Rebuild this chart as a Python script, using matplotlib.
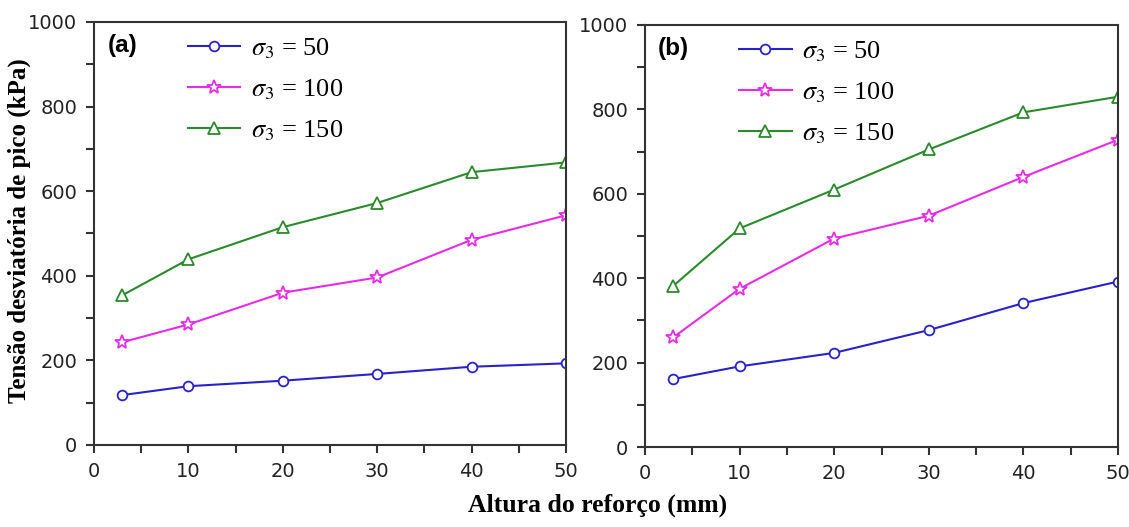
import matplotlib
matplotlib.use("Agg")
import matplotlib.pyplot as plt
from matplotlib.ticker import MultipleLocator

# ---------- Data ----------
altura = [3, 10, 20, 30, 40, 50]

a_s50 = [118, 139, 152, 168, 185, 193]
a_s100 = [243, 285, 360, 396, 485, 543]
a_s150 = [354, 439, 515, 572, 645, 668]

b_s50 = [161, 191, 223, 277, 341, 392]
b_s100 = [260, 375, 494, 548, 640, 728]
b_s150 = [382, 518, 610, 705, 793, 830]

series_labels = [r"$\sigma_3$ = 50", r"$\sigma_3$ = 100", r"$\sigma_3$ = 150"]
panel_labels = ["(a)", "(b)"]

colors = ["#2a22c8", "#e62ce6", "#2b8a2b"]
markers = ["o", "*", "^"]
msizes = [7, 10, 9]

plt.rcParams["mathtext.fontset"] = "stix"

fig = plt.figure(figsize=(11.29, 5.27), dpi=100)
ax_a = fig.add_axes([0.0833, 0.1556, 0.418, 0.8027])
ax_b = fig.add_axes([0.5713, 0.1518, 0.419, 0.8008])


def draw_panel(ax, data, tag):
    for vals, lab, c, m, ms in zip(data, series_labels, colors, markers, msizes):
        ax.plot(altura, vals, color=c, lw=1.5, marker=m, ms=ms,
                mfc="white", mec=c, mew=1.3, label=lab)
    ax.set_xlim(0, 50)
    ax.set_ylim(0, 1000)
    ax.xaxis.set_major_locator(MultipleLocator(10))
    ax.xaxis.set_minor_locator(MultipleLocator(5))
    ax.yaxis.set_major_locator(MultipleLocator(200))
    ax.yaxis.set_minor_locator(MultipleLocator(100))
    ax.tick_params(which="both", direction="out", width=1.5, color="#333333")
    ax.tick_params(which="major", length=6, labelsize=14, pad=6,
                   labelcolor="#222222")
    ax.tick_params(which="minor", length=6)
    for sp in ax.spines.values():
        sp.set_linewidth(1.5)
        sp.set_color("#333333")
    ax.text(0.028, 0.972, tag, transform=ax.transAxes, fontsize=17.5,
            fontweight="bold", family="Liberation Sans", va="top", ha="left")
    leg = ax.legend(loc="upper left", bbox_to_anchor=(0.148, 1.022), frameon=False,
                    handlelength=2.0, labelspacing=0.62, handletextpad=0.4,
                    prop={"family": "Liberation Serif", "size": 19})
    return leg


draw_panel(ax_a, [a_s50, a_s100, a_s150], panel_labels[0])
draw_panel(ax_b, [b_s50, b_s100, b_s150], panel_labels[1])

fig.text(0.017, 0.562, "Tensão desviatória de pico (kPa)", rotation=90,
         ha="center", va="center", fontsize=18, fontweight="bold",
         family="Liberation Serif")
fig.text(0.529, 0.042, "Altura do reforço (mm)", ha="center", va="center",
         fontsize=18.5, fontweight="bold", family="Liberation Serif")

fig.savefig("out.png", dpi=100)
